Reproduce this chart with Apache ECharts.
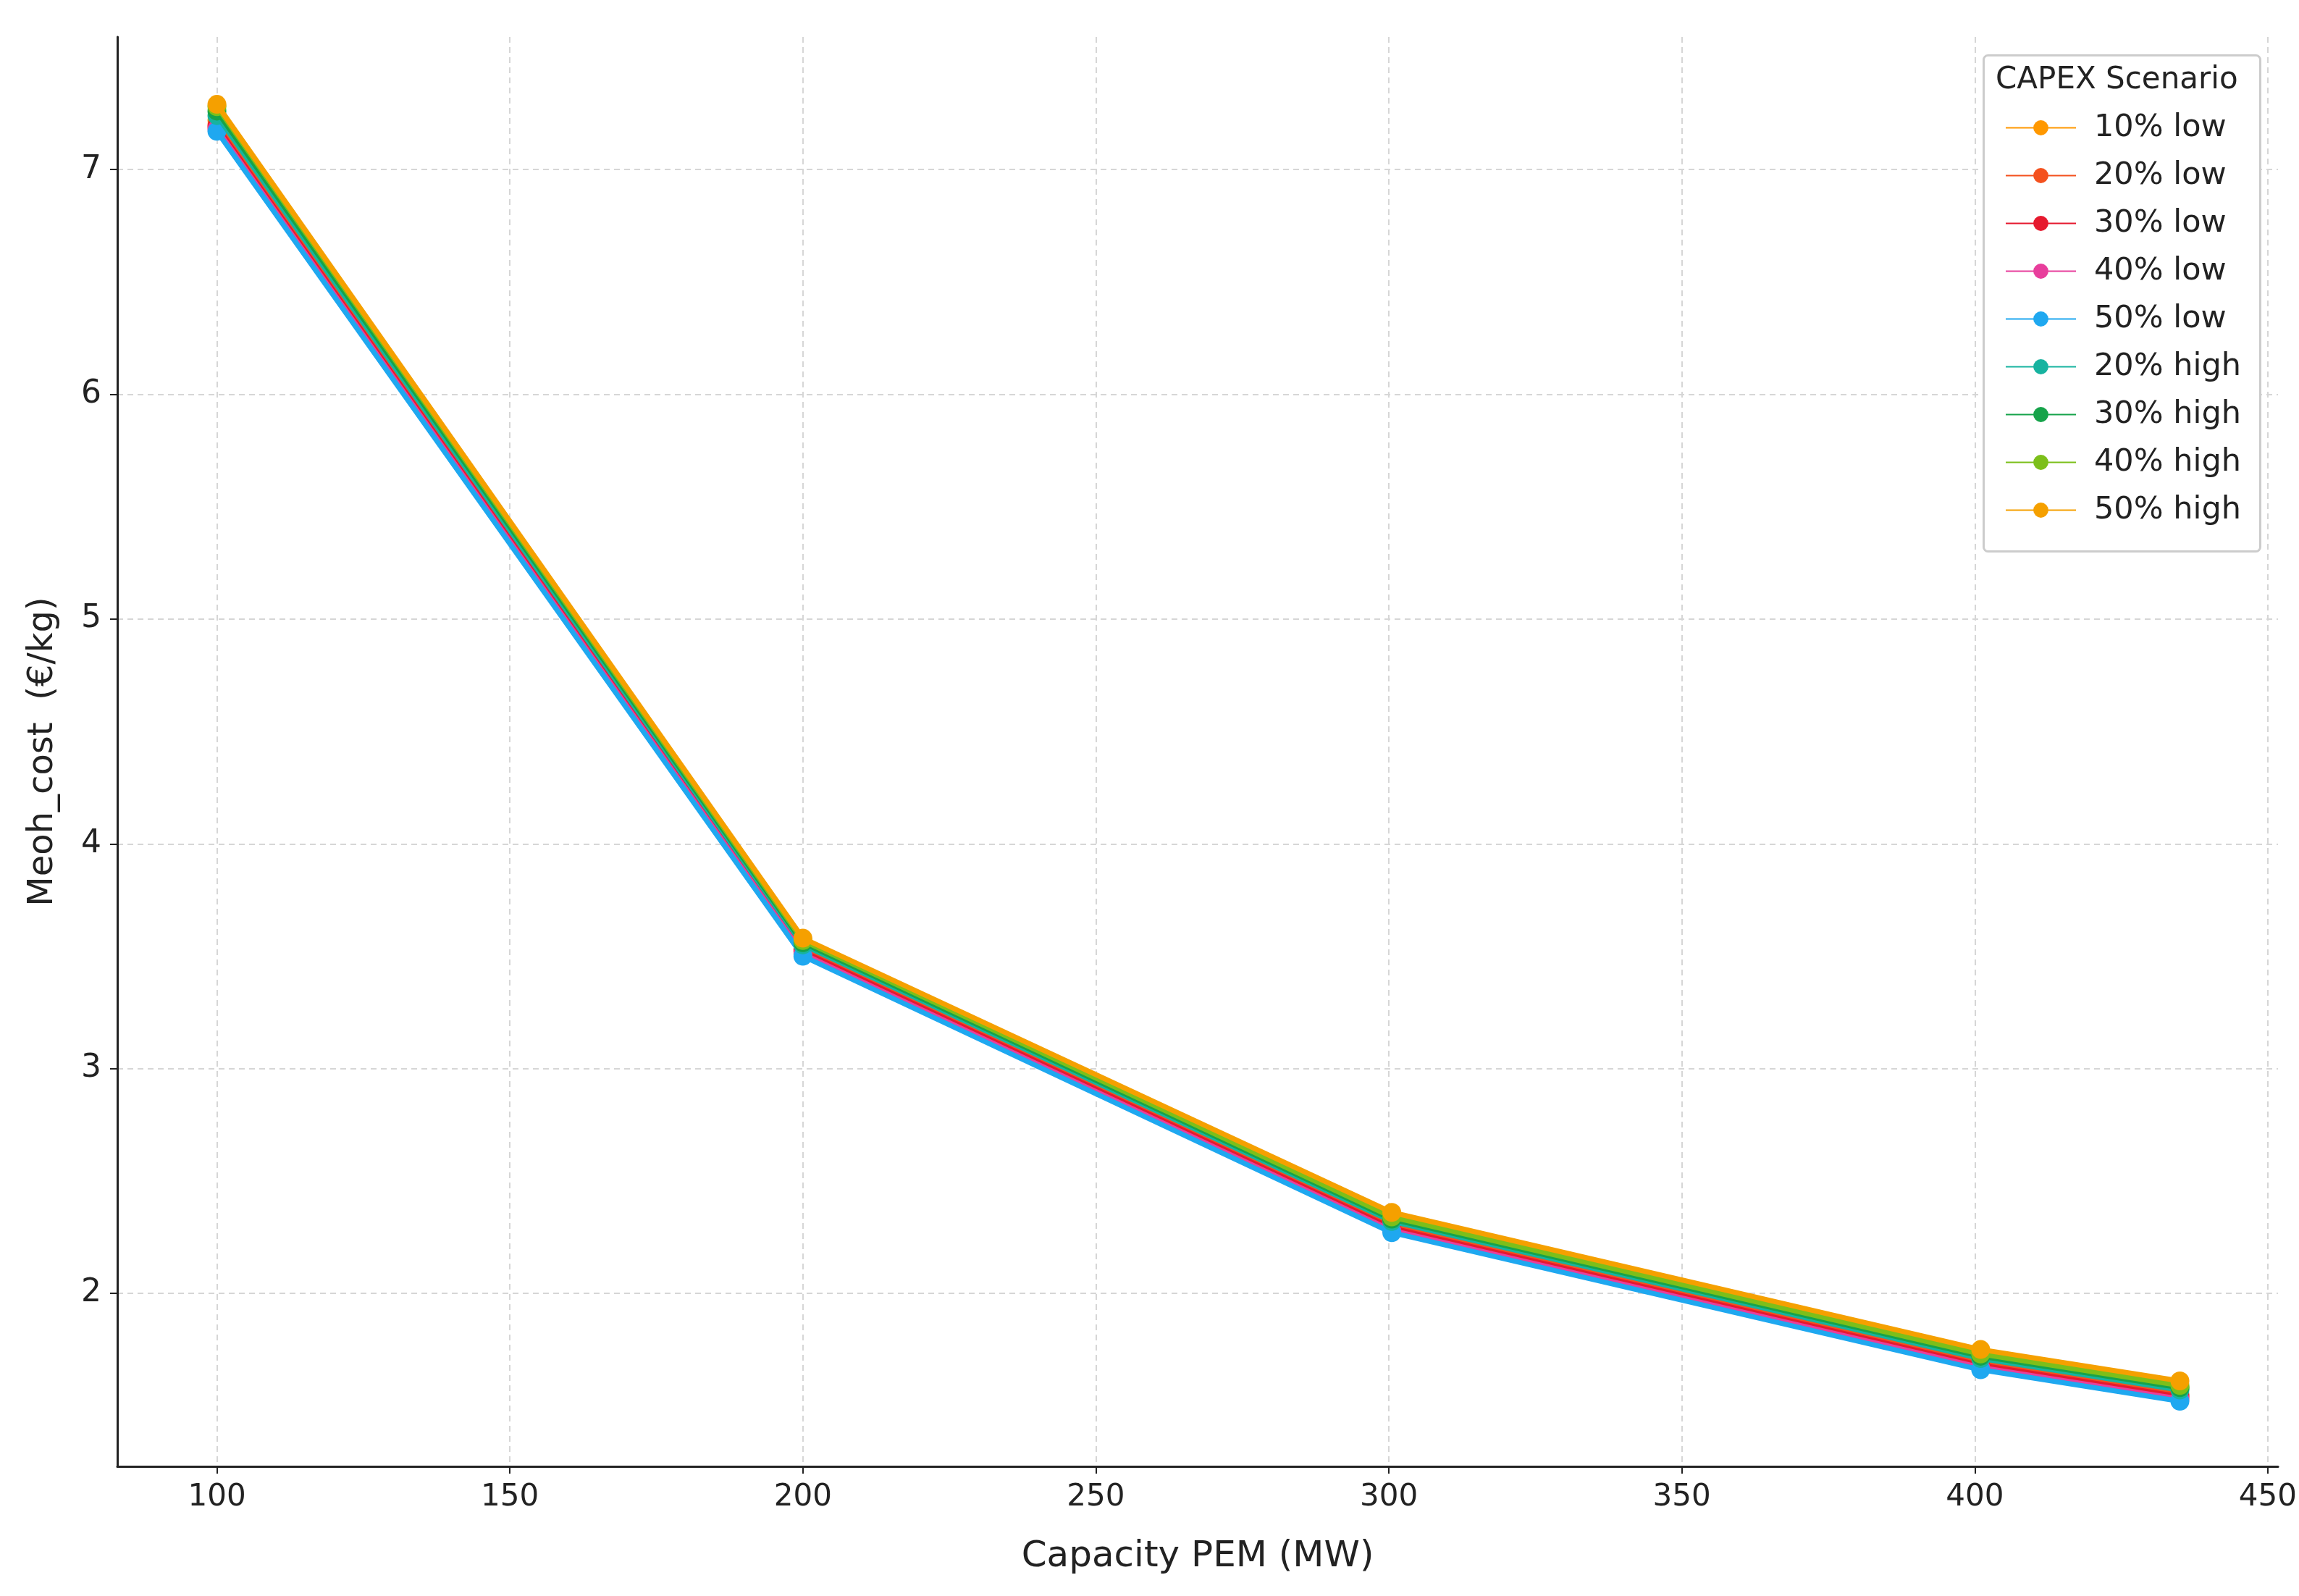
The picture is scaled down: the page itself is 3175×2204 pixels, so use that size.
<!DOCTYPE html>
<html>
<head>
<meta charset="UTF-8">
<title>Meoh cost vs PEM capacity</title>
<style>
  html, body { height: 100%; margin: 0; padding: 0; background: #fff; }
  #chart-container { width: 100%; height: 100%; }
</style>
</head>
<body>
<div id="chart-container"></div>
<script src="https://cdn.jsdelivr.net/npm/echarts@6.0.0/dist/echarts.min.js"></script>
<script>
// capacity values (MW)
const capacity = [100, 200, 300.5, 401, 435];

// scenario names, colours, cost values (€/kg)
const scenarios = ['10% low', '20% low', '30% low', '40% low', '50% low',
                   '20% high', '30% high', '40% high', '50% high'];
const colors = ['#ff9800', '#f4511e', '#e6192e', '#e83e9c', '#1fa8f0',
                '#17b3a0', '#16a34a', '#7cbf1a', '#f5a000'];
const cost10Low  = [7.22, 3.55, 2.33, 1.72, 1.58];
const cost20Low  = [7.20, 3.53, 2.30, 1.69, 1.55];
const cost30Low  = [7.19, 3.52, 2.29, 1.68, 1.54];
const cost40Low  = [7.18, 3.51, 2.28, 1.67, 1.53];
const cost50Low  = [7.17, 3.50, 2.27, 1.66, 1.52];
const cost20High = [7.24, 3.55, 2.32, 1.71, 1.57];
const cost30High = [7.26, 3.56, 2.33, 1.72, 1.58];
const cost40High = [7.28, 3.57, 2.34, 1.73, 1.59];
const cost50High = [7.29, 3.58, 2.36, 1.75, 1.61];
const costs = [cost10Low, cost20Low, cost30Low, cost40Low, cost50Low,
               cost20High, cost30High, cost40High, cost50High];

const xTicks = [100, 150, 200, 250, 300, 350, 400, 450];
const yTicks = [2, 3, 4, 5, 6, 7];

const chart = echarts.init(document.getElementById('chart-container'));
const font = 'DejaVu Sans';
const gridLine = { show: true, lineStyle: { color: '#d6d6d6', type: [8, 6], width: 2 } };

const series = scenarios.map(function (name, i) {
  return {
    name: name,
    type: 'line',
    data: capacity.map(function (c, j) { return [c, costs[i][j]]; }),
    symbol: 'circle',
    symbolSize: 26,
    lineStyle: { width: 7, color: colors[i] },
    itemStyle: { color: colors[i] },
    z: 2 + i
  };
});

chart.setOption({
  backgroundColor: '#fff',
  animation: false,
  textStyle: { fontFamily: font },
  grid: { left: 162, right: 3175 - 3149, top: 51, bottom: 2204 - 2025, containLabel: false },
  xAxis: {
    type: 'value', min: 83, max: 451.75,
    name: 'Capacity PEM (MW)', nameLocation: 'middle', nameGap: 100,
    nameTextStyle: { fontSize: 50, color: '#222', fontFamily: font },
    axisLine: { show: true, lineStyle: { color: '#222', width: 3 } },
    axisTick: { show: true, customValues: xTicks, length: 10, lineStyle: { color: '#222', width: 2 } },
    axisLabel: { fontSize: 42, color: '#222', margin: 22, customValues: xTicks },
    splitLine: gridLine
  },
  yAxis: {
    type: 'value', min: 1.23, max: 7.59,
    name: 'Meoh_cost  (€/kg)', nameLocation: 'middle', nameGap: 78,
    nameTextStyle: { fontSize: 48, color: '#222', fontFamily: font },
    axisLine: { show: true, lineStyle: { color: '#222', width: 3 } },
    axisTick: { show: true, length: 10, customValues: yTicks, lineStyle: { color: '#222', width: 2 } },
    axisLabel: { fontSize: 44, color: '#222', margin: 22, customValues: yTicks },
    splitLine: gridLine
  },
  legend: {
    right: 3175 - 3100, top: 150, orient: 'vertical', z: 20,
    itemWidth: 97, itemHeight: 26, itemGap: 23,
    textStyle: { fontSize: 43, color: '#222', fontFamily: font, padding: [0, 0, 0, 20] },
    data: scenarios
  },
  graphic: [
    { type: 'rect', left: 2738, top: 75, z: 1, silent: true,
      shape: { width: 382, height: 685, r: 6 },
      style: { fill: '#ffffff', stroke: '#cccccc', lineWidth: 3 } },
    { type: 'text', left: 2756, top: 90, z: 21,
      style: { text: 'CAPEX Scenario', fontSize: 42, fill: '#222', fontFamily: font } }
  ],
  series: series
});
</script>
</body>
</html>
